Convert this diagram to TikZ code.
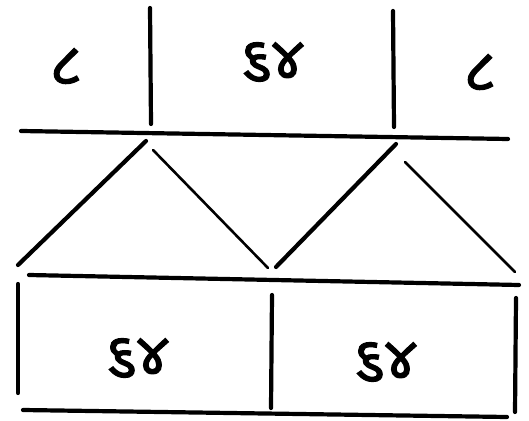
\documentclass[tikz,border=0pt]{standalone}
\usepackage{fontspec}
\newfontfamily\gujfont[Script=Gujarati,FakeBold=2]{Noto Sans Gujarati UI}
\begin{document}
\begin{tikzpicture}[x=1bp,y=1bp,
  thickline/.style={line width=4.2bp,line cap=round},
  thinline/.style={line width=2.6bp,line cap=round},
  lbl/.style={font=\gujfont\fontsize{58}{62}\selectfont,inner sep=0pt}]
\useasboundingbox (0,0) rectangle (529,420);
\begin{scope}[yshift=420bp,y=-1bp]
% top row
\draw[thickline] (150,8) -- (151,124);
\draw[thickline] (393,11) -- (394,127);
\draw[thickline] (21,131) -- (508,139);
% diagonals
\draw[thickline] (146,141) -- (18,265);
\draw[thinline] (153,150) -- (268,268);
\draw[thickline] (396,144) -- (276,267);
\draw[thinline] (405,162) -- (515,272);
% bottom box
\draw[thickline] (29,275) -- (519,285);
\draw[thickline] (18,284) -- (18,393);
\draw[thickline] (272,295) -- (271,408);
\draw[thickline] (516,298) -- (515,412);
\draw[thickline] (23,410) -- (507,417);
\end{scope}
\node[lbl] (a) at (66,354) {૮};
\node[lbl] (b) at (272,358) {૬૪};
\node[lbl] (c) at (480,348) {૮};
\node[lbl] (d) at (137,62) {૬૪};
\node[lbl] (e) at (385,58) {૬૪};
\end{tikzpicture}
\end{document}
